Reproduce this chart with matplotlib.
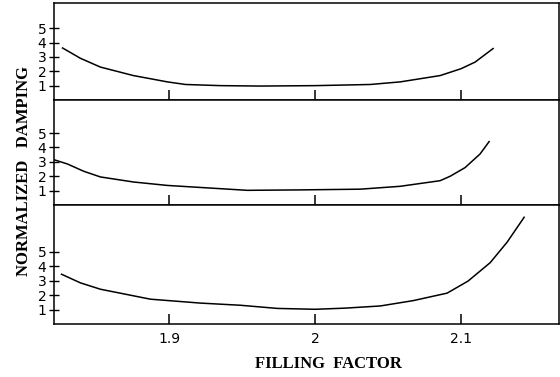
import matplotlib
matplotlib.use("Agg")
import matplotlib.pyplot as plt

# Normalized damping versus filling factor, three stacked panels
x_top = [1.8267, 1.8390, 1.8527, 1.8753, 1.8870, 1.8986, 1.9110, 1.9349, 1.9623,
         2.0000, 2.0240, 2.0377, 2.0582, 2.0856, 2.1000, 2.1096, 2.1219]
y_top = [3.62, 2.90, 2.29, 1.70, 1.48, 1.26, 1.08, 1.00, 0.97,
         1.00, 1.05, 1.08, 1.26, 1.70, 2.18, 2.64, 3.58]

x_mid = [1.8205, 1.8301, 1.8411, 1.8527, 1.8753, 1.8986, 1.9212, 1.9534,
         1.9897, 2.0308, 2.0582, 2.0856, 2.0925, 2.1027, 2.1130, 2.1192]
y_mid = [3.16, 2.85, 2.35, 1.95, 1.60, 1.36, 1.22, 1.02,
         1.05, 1.10, 1.30, 1.69, 2.00, 2.60, 3.55, 4.41]

x_bot = [1.8260, 1.8390, 1.8527, 1.8870, 1.9212, 1.9486, 1.9740, 2.0000,
         2.0205, 2.0445, 2.0671, 2.0904, 2.1048, 2.1199, 2.1315, 2.1432]
y_bot = [3.45, 2.85, 2.41, 1.72, 1.45, 1.30, 1.08, 1.02,
         1.10, 1.25, 1.62, 2.14, 2.98, 4.25, 5.67, 7.40]

x_ticks = [1.9, 2.0, 2.1]
x_ticklabels = ["1.9", "2", "2.1"]
y_ticks = [1, 2, 3, 4, 5]
y_ticklabels = ["1", "2", "3", "4", "5"]

W, H = 560, 377
fig = plt.figure(figsize=(W / 100, H / 100), dpi=100)

tick_font = ["Liberation Sans Narrow", "DejaVu Sans"]
label_font = ["Liberation Serif", "DejaVu Serif"]

left_px, right_px = 53.5, 559
panels = [  # (top px, bottom px, y max, x, y)
    (3, 100, 6.75, x_top, y_top),
    (100, 205, 7.3, x_mid, y_mid),
    (205, 324, 8.25, x_bot, y_bot),
]

axes = []
for i, (t, b, ymax, xs, ys) in enumerate(panels):
    ax = fig.add_axes([left_px / W, 1 - b / H, (right_px - left_px) / W, (b - t) / H])
    ax.plot(xs, ys, color="black", lw=1.1)
    ax.set_xlim(1.8205, 2.1671)
    ax.set_ylim(0, ymax)
    ax.set_xticks(x_ticks)
    ax.set_yticks(y_ticks)
    ax.set_yticklabels(y_ticklabels, family=tick_font, fontsize=10)
    for s in ax.spines.values():
        s.set_linewidth(1.1)
    ax.tick_params(axis="x", direction="in", length=7, width=1.1, top=False, pad=6)
    ax.tick_params(axis="y", direction="inout", length=7, width=1.0, right=False, pad=1.5)
    if i < 2:
        ax.set_xticklabels([])
    else:
        ax.set_xticklabels(x_ticklabels, family=tick_font, fontsize=10)
    axes.append(ax)

fig.text(328 / W, 1 - 364 / H, "FILLING  FACTOR", family=label_font, fontweight="bold",
         fontsize=12, ha="center", va="center")
fig.text(24 / W, 1 - 171 / H, "NORMALIZED   DAMPING", family=label_font, fontweight="bold",
         fontsize=12, ha="center", va="center", rotation=90)

fig.savefig("out.png", dpi=100)
